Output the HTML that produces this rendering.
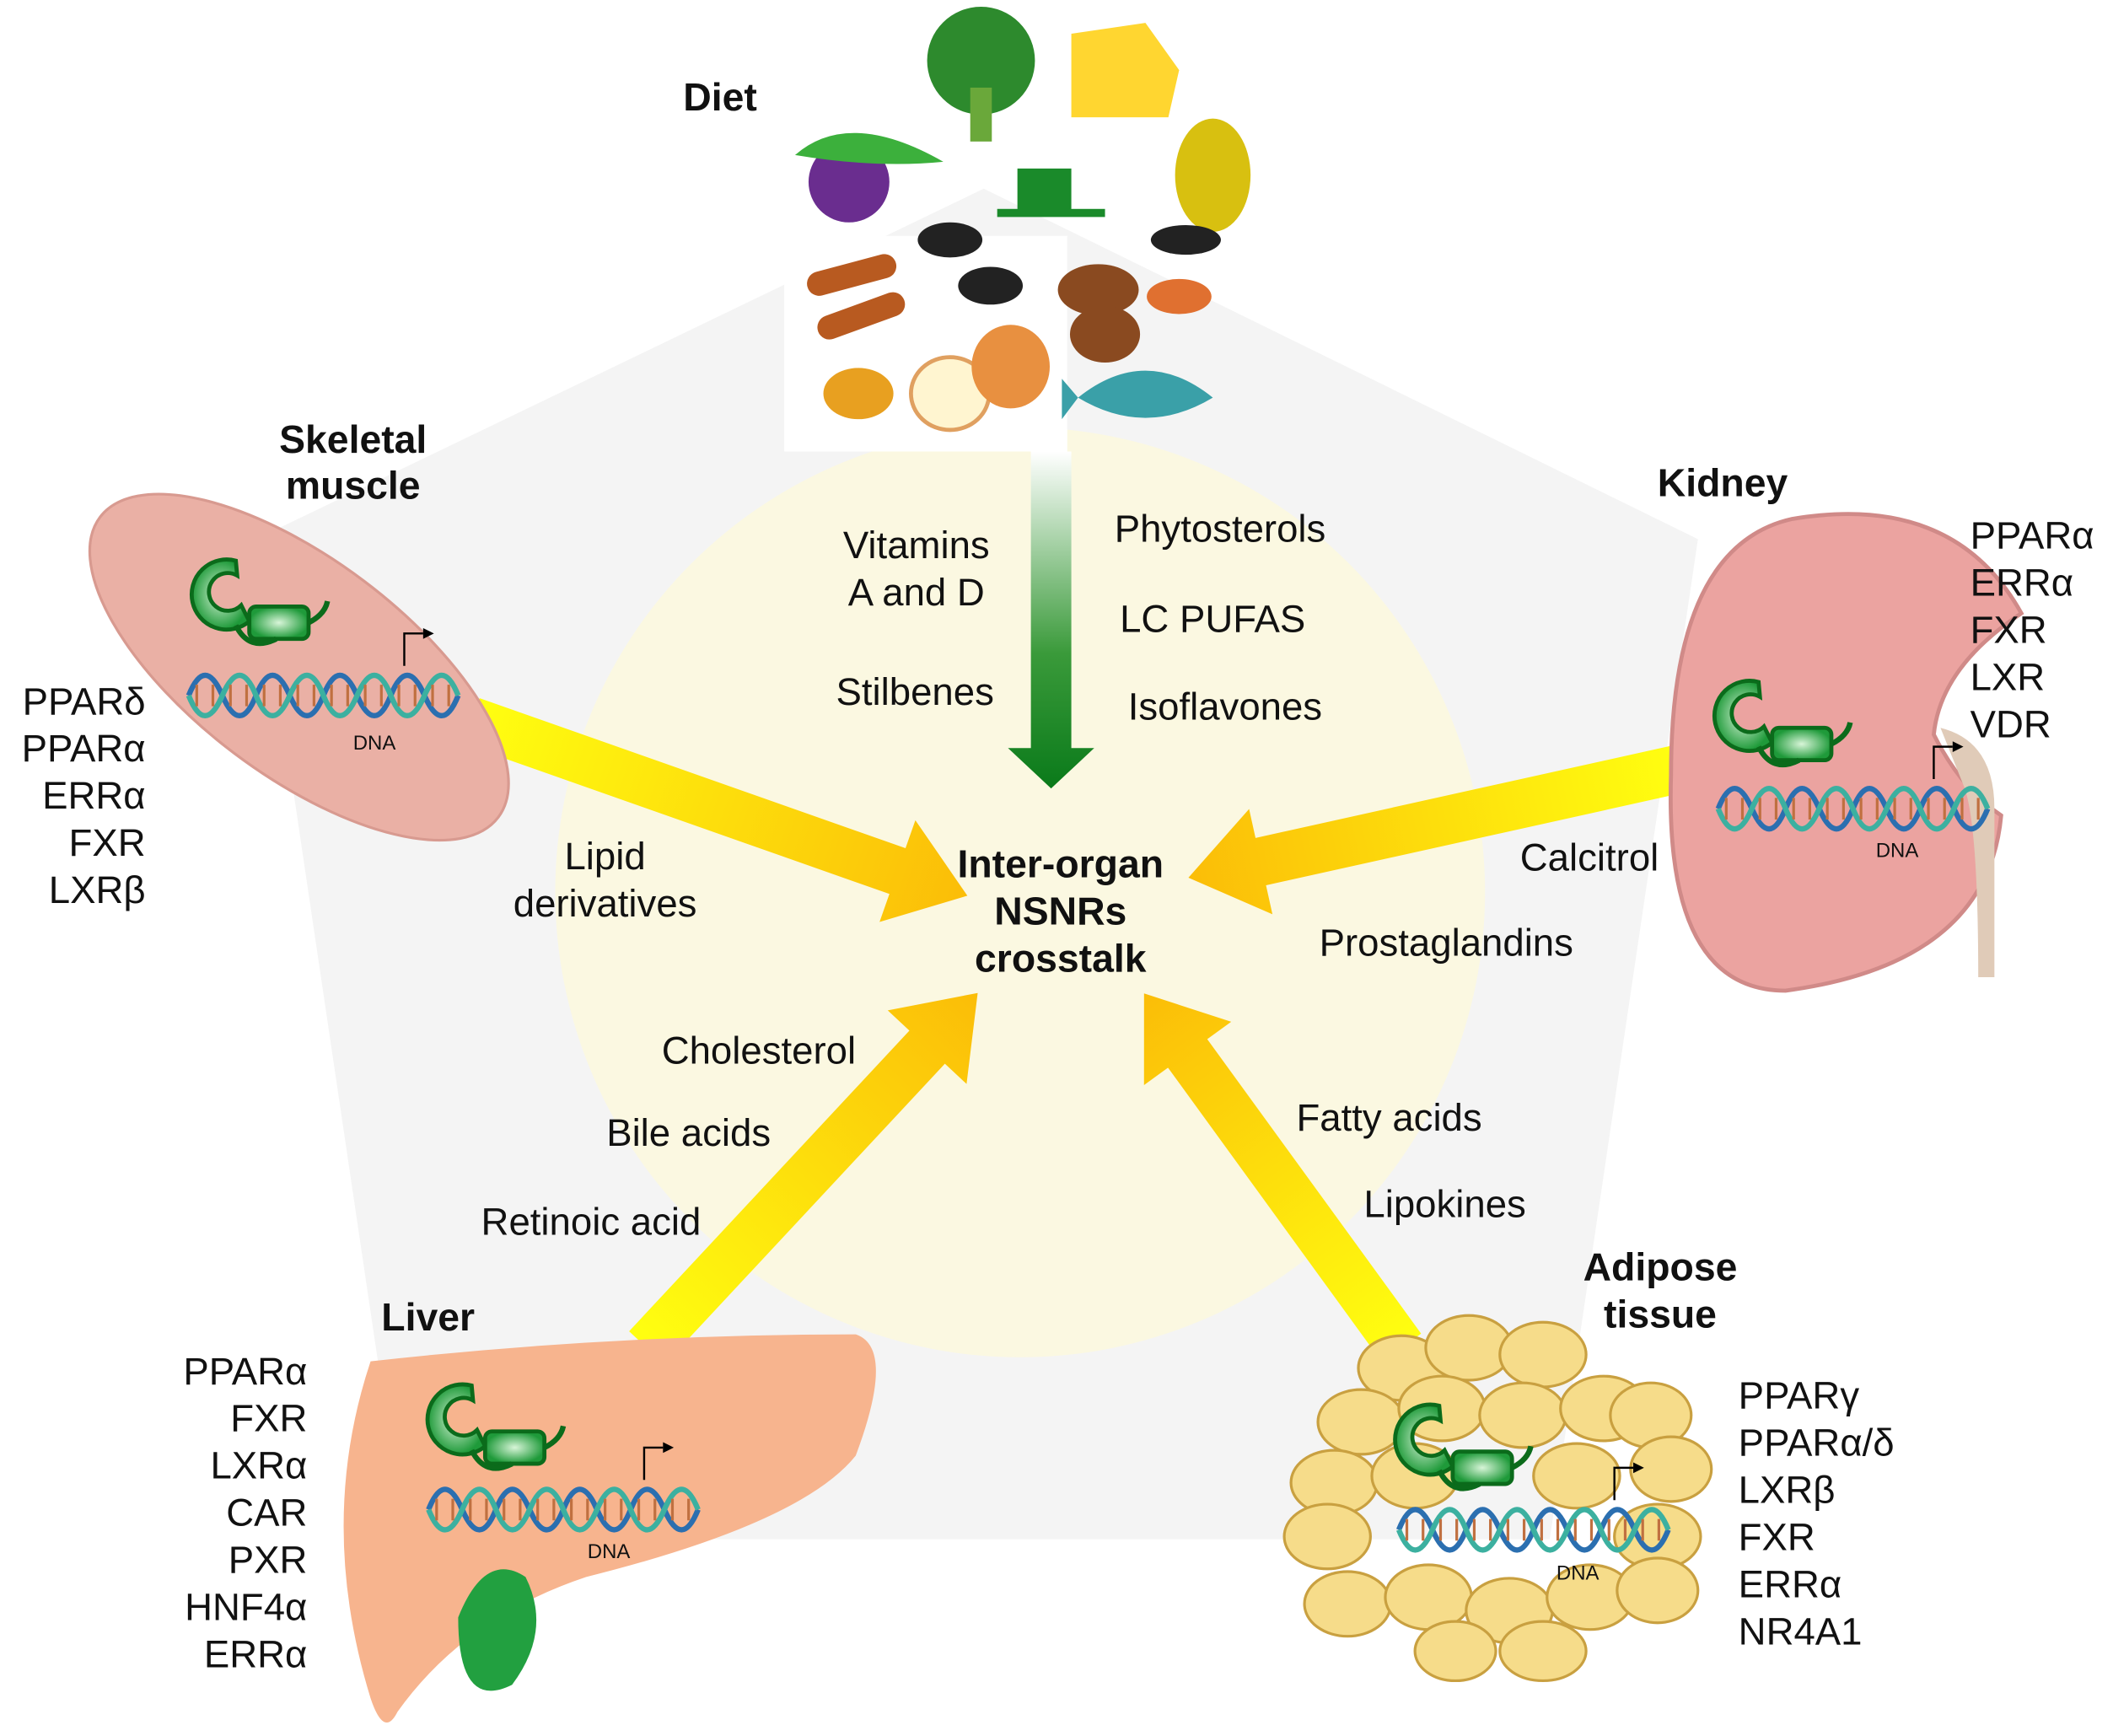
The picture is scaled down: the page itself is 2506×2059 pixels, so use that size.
<!DOCTYPE html>
<html><head><meta charset="utf-8"><style>
html,body{margin:0;padding:0;background:#fff;}
svg{display:block;}
text{font-family:"Liberation Sans",sans-serif;fill:#111;}
.l{font-size:28.5px;}
.b{font-size:29px;font-weight:bold;}
.r{font-size:28.5px;text-anchor:end;}
.s{font-size:15px;}
</style></head><body>
<svg width="2506" height="2059" viewBox="0 0 1568 1288" preserveAspectRatio="none" xmlns="http://www.w3.org/2000/svg">
<defs>
<linearGradient id="gd" x1="0" y1="0" x2="0" y2="1"><stop offset="0" stop-color="#ffffff"/><stop offset="0.6" stop-color="#3a9a3a"/><stop offset="1" stop-color="#0a7a1a"/></linearGradient>
<linearGradient id="ya" x1="0" y1="0" x2="1" y2="0"><stop offset="0" stop-color="#ffff10"/><stop offset="1" stop-color="#fbbd08"/></linearGradient>
<radialGradient id="gr"><stop offset="0" stop-color="#d8f5d8"/><stop offset="1" stop-color="#1f9a3a"/></radialGradient>
<g id="rec">
 <path d="M40,8 a26,26 0 1 0 10,45 l-6,-12 a14,14 0 1 1 -3,-22 z" fill="url(#gr)" stroke="#0b6b1b" stroke-width="3"/>
 <rect x="50" y="42" width="44" height="24" rx="5" fill="url(#gr)" stroke="#0b6b1b" stroke-width="3"/>
 <path d="M40,56 q10,20 30,10 M94,54 q12,-6 14,-16" fill="none" stroke="#0b6b1b" stroke-width="4"/>
</g>
<g id="dna">
 <path d="M0,30 q12,-30 25,0 t25,0 t25,0 t25,0 t25,0 t25,0 t25,0 t25,0" fill="none" stroke="#2b6fb0" stroke-width="4"/>
 <path d="M0,30 q12,30 25,0 t25,0 t25,0 t25,0 t25,0 t25,0 t25,0 t25,0" fill="none" stroke="#3cb0a0" stroke-width="4"/>
 <path d="M6,22v16M18,22v16M31,22v16M43,22v16M56,22v16M68,22v16M81,22v16M93,22v16M106,22v16M118,22v16M131,22v16M143,22v16M156,22v16M168,22v16M181,22v16M193,22v16" stroke="#c07040" stroke-width="2"/>
 <path d="M160,8v-24h14" fill="none" stroke="#000" stroke-width="1.5"/><path d="M174,-20l8,4l-8,4z"/>
</g>
</defs>
<rect width="1568" height="1288" fill="#fff"/>
<polygon points="730,140 1260,400 1150,1142 300,1142 190,400" fill="#f4f4f4"/>
<circle cx="757" cy="662" r="345" fill="#fbf8e1"/>

<!-- diet -->
<rect x="582" y="175" width="210" height="160" fill="#fff"/>
<circle cx="728" cy="45" r="40" fill="#2d8a2d"/><rect x="720" y="65" width="16" height="40" fill="#6aa83a"/>
<path d="M795,25 l55,-8 l25,35 l-8,35 l-72,0z" fill="#ffd630"/>
<circle cx="630" cy="135" r="30" fill="#6a2d8f"/><path d="M590,115 q40,-35 110,5 q-50,5 -110,-5z" fill="#3cb03c"/>
<path d="M755,125 h40 v30 q-20,10 -40,0z" fill="#1a8a2a"/><rect x="740" y="155" width="80" height="6" fill="#1a8a2a"/>
<ellipse cx="900" cy="130" rx="28" ry="42" fill="#d8c010"/><ellipse cx="880" cy="178" rx="26" ry="11" fill="#222"/>
<ellipse cx="705" cy="178" rx="24" ry="13" fill="#222"/><ellipse cx="735" cy="212" rx="24" ry="14" fill="#222"/>
<rect x="598" y="195" width="68" height="18" rx="9" fill="#b85a20" transform="rotate(-15 632 204)"/>
<rect x="605" y="225" width="68" height="18" rx="9" fill="#b85a20" transform="rotate(-20 640 234)"/>
<ellipse cx="815" cy="215" rx="30" ry="19" fill="#8a4a20"/><ellipse cx="820" cy="248" rx="26" ry="21" fill="#8a4a20"/><ellipse cx="875" cy="220" rx="24" ry="13" fill="#e07030"/>
<ellipse cx="637" cy="292" rx="26" ry="19" fill="#e8a020"/>
<ellipse cx="705" cy="292" rx="29" ry="27" fill="#fff5d0" stroke="#e0a060" stroke-width="3"/><ellipse cx="750" cy="272" rx="29" ry="31" fill="#e89040"/>
<path d="M800,295 q50,-40 100,0 q-50,30 -100,0z M800,295 l-12,-14 v30z" fill="#3aa0a8"/>
<text class="b" x="507" y="82">Diet</text>

<!-- green arrow -->
<polygon points="765,335 795,335 795,555 812,555 780,585 748,555 765,555" fill="url(#gd)"/>

<!-- yellow arrows -->
<g transform="translate(350,535) rotate(19.4)"><polygon points="0,-18 335,-18 335,-40 390,0 335,40 335,18 0,18" fill="url(#ya)"/></g>
<g transform="translate(1248,570) rotate(167.5)"><polygon points="0,-18 320,-18 320,-40 375,0 320,40 320,18 0,18" fill="url(#ya)"/></g>
<g transform="translate(480,1000) rotate(-47)"><polygon points="0,-18 305,-18 305,-40 360,0 305,40 305,18 0,18" fill="url(#ya)"/></g>
<g transform="translate(1040,1000) rotate(-126)"><polygon points="0,-18 270,-18 270,-40 325,0 270,40 270,18 0,18" fill="url(#ya)"/></g>

<!-- muscle -->
<ellipse cx="222" cy="495" rx="185" ry="80" transform="rotate(37 222 495)" fill="#eab0a5" stroke="#d89a90" stroke-width="2"/>
<use href="#rec" x="135" y="408"/>
<use href="#dna" x="140" y="486"/>
<text class="s" x="262" y="556">DNA</text>
<text class="b" x="262" y="336" text-anchor="middle">Skeletal</text><text class="b" x="262" y="370" text-anchor="middle">muscle</text>
<text class="r" x="108" y="530">PPARδ</text><text class="r" x="108" y="565">PPARα</text><text class="r" x="108" y="600">ERRα</text><text class="r" x="108" y="635">FXR</text><text class="r" x="108" y="670">LXRβ</text>

<!-- kidney -->
<path d="M1330,385 q120,-20 170,70 q-60,40 -65,90 q20,40 50,60 q-10,110 -160,130 q-90,0 -85,-160 q0,-170 90,-190z" fill="#eba3a0" stroke="#d08a88" stroke-width="3"/>
<path d="M1440,540 q40,10 40,60 v125 h-12 q0,-110 -10,-140z" fill="#e0cbb8"/>
<use href="#rec" x="1265" y="498"/>
<use href="#dna" x="1275" y="570"/>
<text class="s" x="1392" y="636">DNA</text>
<text class="b" x="1230" y="368">Kidney</text>
<text class="l" x="1462" y="407">PPARα</text><text class="l" x="1462" y="442">ERRα</text><text class="l" x="1462" y="477">FXR</text><text class="l" x="1462" y="512">LXR</text><text class="l" x="1462" y="547">VDR</text>

<!-- liver -->
<path d="M275,1010 q180,-20 360,-20 q30,10 0,90 q-40,50 -200,90 q-90,30 -140,100 q-10,20 -20,-10 q-40,-130 0,-250z" fill="#f7b48e"/>
<path d="M340,1200 q20,-50 50,-30 q20,40 -10,80 q-40,20 -40,-50z" fill="#22a040"/>
<use href="#rec" x="310" y="1020"/>
<use href="#dna" x="318" y="1090"/>
<text class="s" x="436" y="1156">DNA</text>
<text class="b" x="283" y="987">Liver</text>
<text class="r" x="228" y="1027">PPARα</text><text class="r" x="228" y="1062">FXR</text><text class="r" x="228" y="1097">LXRα</text><text class="r" x="228" y="1132">CAR</text><text class="r" x="228" y="1167">PXR</text><text class="r" x="228" y="1202">HNF4α</text><text class="r" x="228" y="1237">ERRα</text>

<!-- adipose -->
<g fill="#f6dc8a" stroke="#c9a040" stroke-width="2">
<ellipse cx="1040" cy="1015" rx="32" ry="24"/><ellipse cx="1090" cy="1000" rx="32" ry="24"/><ellipse cx="1145" cy="1005" rx="32" ry="24"/>
<ellipse cx="1010" cy="1055" rx="32" ry="24"/><ellipse cx="1070" cy="1045" rx="32" ry="24"/><ellipse cx="1130" cy="1050" rx="32" ry="24"/><ellipse cx="1190" cy="1045" rx="32" ry="24"/><ellipse cx="1225" cy="1050" rx="30" ry="24"/>
<ellipse cx="990" cy="1100" rx="32" ry="24"/><ellipse cx="1050" cy="1095" rx="32" ry="24"/><ellipse cx="1170" cy="1095" rx="32" ry="24"/><ellipse cx="1240" cy="1090" rx="30" ry="24"/>
<ellipse cx="985" cy="1140" rx="32" ry="24"/><ellipse cx="1230" cy="1140" rx="32" ry="24"/>
<ellipse cx="1000" cy="1190" rx="32" ry="24"/><ellipse cx="1060" cy="1185" rx="32" ry="24"/><ellipse cx="1120" cy="1195" rx="32" ry="24"/><ellipse cx="1180" cy="1185" rx="32" ry="24"/><ellipse cx="1230" cy="1180" rx="30" ry="24"/>
<ellipse cx="1145" cy="1225" rx="32" ry="22"/><ellipse cx="1080" cy="1225" rx="30" ry="22"/>
</g>
<use href="#rec" x="1028" y="1035"/>
<use href="#dna" x="1038" y="1105"/>
<text class="s" x="1155" y="1172">DNA</text>
<text class="b" x="1232" y="950" text-anchor="middle">Adipose</text><text class="b" x="1232" y="985" text-anchor="middle">tissue</text>
<text class="l" x="1290" y="1045">PPARγ</text><text class="l" x="1290" y="1080">PPARα/δ</text><text class="l" x="1290" y="1115">LXRβ</text><text class="l" x="1290" y="1150">FXR</text><text class="l" x="1290" y="1185">ERRα</text><text class="l" x="1290" y="1220">NR4A1</text>

<!-- labels -->
<text class="l" x="680" y="414" text-anchor="middle">Vitamins</text><text class="l" x="680" y="449" text-anchor="middle">A and D</text>
<text class="l" x="679" y="523" text-anchor="middle">Stilbenes</text>
<text class="l" x="827" y="402">Phytosterols</text><text class="l" x="831" y="469">LC PUFAS</text><text class="l" x="837" y="534">Isoflavones</text>
<text class="l" x="449" y="645" text-anchor="middle">Lipid</text><text class="l" x="449" y="680" text-anchor="middle">derivatives</text>
<text class="b" x="787" y="651" text-anchor="middle">Inter-organ</text><text class="b" x="787" y="686" text-anchor="middle">NSNRs</text><text class="b" x="787" y="721" text-anchor="middle">crosstalk</text>
<text class="l" x="1128" y="646">Calcitrol</text><text class="l" x="979" y="709">Prostaglandins</text>
<text class="l" x="491" y="789">Cholesterol</text><text class="l" x="450" y="850">Bile acids</text><text class="l" x="357" y="916">Retinoic acid</text>
<text class="l" x="962" y="839">Fatty acids</text><text class="l" x="1012" y="903">Lipokines</text>
</svg>
</body></html>
